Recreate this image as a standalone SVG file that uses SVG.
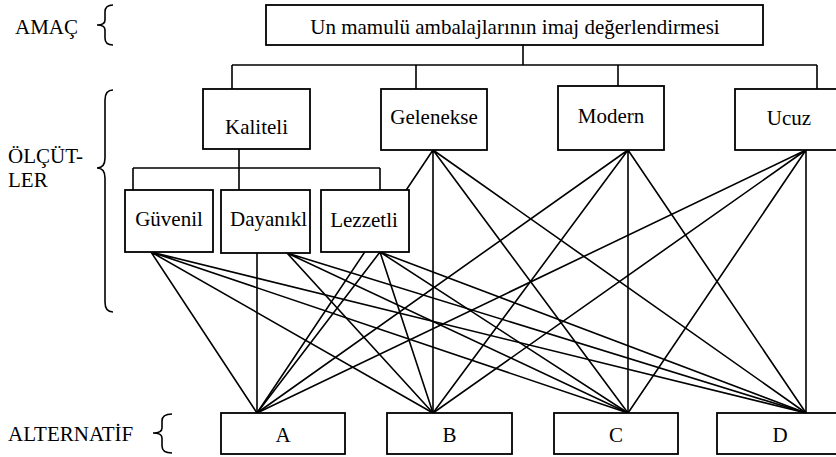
<svg xmlns="http://www.w3.org/2000/svg" width="836" height="457" viewBox="0 0 836 457">
<style>
.box{fill:#fff;stroke:#000;stroke-width:1.8}
.ln{stroke:#000;stroke-width:1.6;fill:none}
.br{stroke:#000;stroke-width:1.6;fill:none}
text{font-family:'Liberation Serif','Times New Roman','DejaVu Serif',serif;font-size:21px;fill:#000}
.c{text-anchor:middle}
</style>
<rect width="836" height="457" fill="#fff"/>
<g id="labels" font-family="Liberation Serif, serif">
<text x="15" y="34">AMAÇ</text>
<text x="8" y="163">ÖLÇÜT-</text>
<text x="8" y="187">LER</text>
<text x="8" y="441">ALTERNATİF</text>
<path class="br" d="M113,5 Q105,5 105,12 L105,20 Q105,25 97,25 Q105,25 105,30 L105,38 Q105,45 113,45"/>
<path class="br" d="M113,90 Q105,90 105,100 L105,158 Q105,168 97,168 Q105,168 105,178 L105,302 Q105,312 113,312"/>
<path class="br" d="M172,414 Q162,414 162,421 L162,428 Q162,433 153,433 Q162,433 162,438 L162,446 Q162,453 172,453"/>
</g>
<g id="connectors">
<path class="ln" d="M523,45 V65 M232,65 H817 M232,65 V89 M416,65 V89 M618,65 V86 M817,65 V89"/>
<path class="ln" d="M239,149 V190 M133,168 H380 M133,168 V190 M380,168 V190"/>
<path class="ln" d="M151,252 L257,413 M151,252 L433,413 M151,252 L628,413 M151,252 L806,413"/>
<path class="ln" d="M257,253 L257,413 M287,253 L433,413 M287,253 L628,413 M287,253 L806,413"/>
<path class="ln" d="M380,252 L257,413 M380,252 L433,413 M380,252 L628,413 M380,252 L806,413"/>
<path class="ln" d="M433,150 L257,413 M433,150 L433,413 M433,150 L628,413 M433,150 L806,413"/>
<path class="ln" d="M628,150 L257,413 M628,150 L433,413 M628,150 L628,413 M628,150 L806,413"/>
<path class="ln" d="M806,150 L257,413 M806,150 L433,413 M806,150 L628,413 M806,150 L806,413"/>
</g>
<g id="goal"><rect class="box" x="266" y="5" width="497" height="40"/><text class="c" x="515" y="34">Un mamulü ambalajlarının imaj değerlendirmesi</text></g>
<g id="kaliteli"><rect class="box" x="203" y="89" width="107" height="60"/><text class="c" x="256.5" y="134">Kaliteli</text></g>
<g id="gelenekse"><rect class="box" x="381" y="89" width="106" height="61"/><text class="c" x="434" y="124">Gelenekse</text></g>
<g id="modern"><rect class="box" x="558" y="86" width="106" height="64"/><text class="c" x="611" y="123">Modern</text></g>
<g id="ucuz"><rect class="box" x="735" y="89" width="108" height="61"/><text class="c" x="789" y="125">Ucuz</text></g>
<g id="guvenil"><rect class="box" x="125" y="190" width="88" height="62"/><text class="c" x="169" y="226">Güvenil</text></g>
<g id="dayanikl"><rect class="box" x="221" y="190" width="89" height="63"/><text x="230" y="226">Dayanıkl</text></g>
<g id="lezzetli"><rect class="box" x="321" y="190" width="88" height="62"/><text class="c" x="364" y="227">Lezzetli</text></g>
<g id="A"><rect class="box" x="221" y="413" width="124" height="41"/><text class="c" x="283" y="442">A</text></g>
<g id="B"><rect class="box" x="387" y="413" width="125" height="41"/><text class="c" x="449.5" y="442">B</text></g>
<g id="C"><rect class="box" x="554" y="413" width="124" height="41"/><text class="c" x="616" y="442">C</text></g>
<g id="D"><rect class="box" x="717" y="413" width="126" height="41"/><text class="c" x="780" y="442">D</text></g>
</svg>
